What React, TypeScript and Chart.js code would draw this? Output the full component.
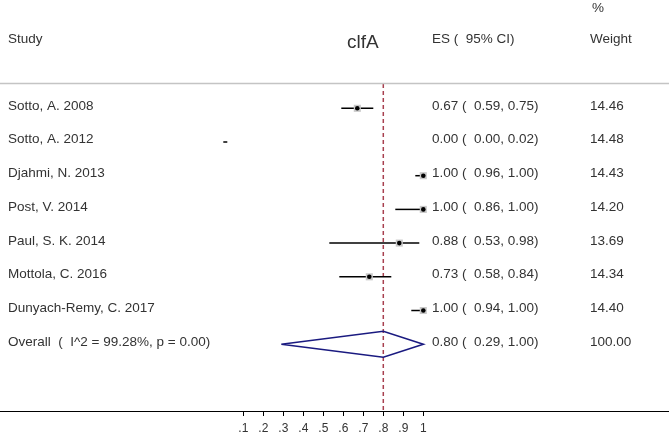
import React, { useEffect, useRef } from "react";
import { Chart, registerables } from "chart.js";

Chart.register(...registerables);

const studies = [
  "Sotto, A. 2008",
  "Sotto, A. 2012",
  "Djahmi, N. 2013",
  "Post, V. 2014",
  "Paul, S. K. 2014",
  "Mottola, C. 2016",
  "Dunyach-Remy, C. 2017",
];
const es = [0.67, 0.0, 1.0, 1.0, 0.88, 0.73, 1.0];
const ciLow = [0.59, 0.0, 0.96, 0.86, 0.53, 0.58, 0.94];
const ciHigh = [0.75, 0.02, 1.0, 1.0, 0.98, 0.84, 1.0];
const weights = [14.46, 14.48, 14.43, 14.2, 13.69, 14.34, 14.4];

const overallLabel = "Overall  (  I^2 = 99.28%, p = 0.00)";
const overallES = 0.8;
const overallLow = 0.29;
const overallHigh = 1.0;
const overallWeight = 100.0;

const xTicks = [0.1, 0.2, 0.3, 0.4, 0.5, 0.6, 0.7, 0.8, 0.9, 1.0];
const refValue = 0.8;
const title = "clfA";

const FONT = "'Liberation Sans', Arial, sans-serif";
const TEXT = "#333333";

export default function App() {
  const ref = useRef<HTMLCanvasElement | null>(null);

  useEffect(() => {
    document.body.style.margin = "0";
    const canvas = ref.current;
    if (!canvas) return;
    const n = studies.length;
    const overallRow = n;
    const hidden = (i: number) => es[i] === 0 && ciHigh[i] - ciLow[i] < 0.03;

    const ciSets = studies.map((s, i) => ({
      type: "line" as const,
      label: s,
      data: [
        { x: ciLow[i], y: i },
        { x: ciHigh[i], y: i },
      ],
      borderColor: "#000000",
      borderWidth: 1.5,
      pointRadius: 0,
      fill: false,
    }));

    const boxSet = {
      type: "scatter" as const,
      label: "weights",
      data: es.map((v, i) => ({ x: v, y: i })),
      pointStyle: "rect",
      pointRadius: es.map((v, i) => (hidden(i) ? 0 : 5)),
      backgroundColor: "#c8c8c8",
      borderWidth: 0,
    };
    const dotSet = {
      type: "scatter" as const,
      label: "es",
      data: es.map((v, i) => ({ x: v, y: i })),
      pointStyle: "circle",
      pointRadius: es.map((v, i) => (hidden(i) ? 0 : 2.3)),
      backgroundColor: "#000000",
      borderWidth: 0,
    };
    const dh = 0.386;
    const diamond = {
      type: "line" as const,
      label: "overall",
      data: [
        { x: overallLow, y: overallRow },
        { x: overallES, y: overallRow - dh },
        { x: overallHigh, y: overallRow },
        { x: overallES, y: overallRow + dh },
        { x: overallLow, y: overallRow },
      ],
      borderColor: "#1a1a80",
      borderWidth: 1.6,
      pointRadius: 0,
      fill: false,
      tension: 0,
    };
    const refLine = {
      type: "line" as const,
      label: "ref",
      data: [
        { x: refValue, y: -0.72 },
        { x: refValue, y: 9.2 },
      ],
      borderColor: "#a8404f",
      borderWidth: 1.5,
      borderDash: [4, 3],
      pointRadius: 0,
      fill: false,
    };

    const textPlugin = {
      id: "forestText",
      afterDraw(chart: any) {
        const ctx = chart.ctx;
        const ys = chart.scales.y;
        const w = chart.width;
        const ty = (v: number) => ys.getPixelForValue(v) - 2.3;
        ctx.save();
        const hy = Math.round(ys.getPixelForValue(-0.751)) + 0.5;
        ctx.strokeStyle = "#c4c4c4";
        ctx.lineWidth = 1.5;
        ctx.beginPath();
        ctx.moveTo(0, hy);
        ctx.lineTo(w, hy);
        ctx.stroke();

        ctx.fillStyle = TEXT;
        ctx.textBaseline = "middle";
        ctx.font = `13.5px ${FONT}`;
        const headY = ty(-1.988);
        ctx.fillText("Study", 8, headY);
        ctx.fillText("ES (  95% CI)", 432, headY);
        ctx.fillText("Weight", 590, headY);
        ctx.fillText("%", 592, ty(-2.89));
        ctx.font = `19px ${FONT}`;
        ctx.fillText(title, 347, ty(-1.88));

        ctx.font = `13.5px ${FONT}`;
        const f = (v: number) => v.toFixed(2);
        studies.forEach((s, i) => {
          const y = ty(i);
          ctx.fillText(s, 8, y);
          ctx.fillText(`${f(es[i])} (  ${f(ciLow[i])}, ${f(ciHigh[i])})`, 432, y);
          ctx.fillText(f(weights[i]), 590, y);
        });
        const oy = ty(overallRow);
        ctx.fillText(overallLabel, 8, oy);
        ctx.fillText(`${f(overallES)} (  ${f(overallLow)}, ${f(overallHigh)})`, 432, oy);
        ctx.fillText(f(overallWeight), 590, oy);
        ctx.restore();
      },
    };

    const chart = new Chart(canvas, {
      type: "scatter",
      data: { datasets: [dotSet, boxSet, diamond, ...ciSets, refLine] as any },
      options: {
        responsive: false,
        animation: false,
        events: [],
        layout: { padding: 0, autoPadding: false },
        plugins: { legend: { display: false }, tooltip: { enabled: false } },
        scales: {
          x: {
            type: "linear",
            position: "bottom",
            min: -1.1165,
            max: 2.2285,
            afterBuildTicks: (axis: any) => {
              axis.ticks = xTicks.map((v) => ({ value: v }));
            },
            afterFit: (axis: any) => {
              axis.height = 23;
            },
            ticks: {
              autoSkip: false,
              maxRotation: 0,
              padding: 5,
              color: TEXT,
              font: { family: FONT, size: 12 },
              callback: (v: any) => {
                const num = Number(v);
                return num >= 1 ? "1" : "." + Math.round(num * 10);
              },
            },
            grid: {
              display: true,
              drawOnChartArea: false,
              drawTicks: true,
              tickLength: 5,
              color: "#000000",
              lineWidth: 1,
            },
            border: { display: true, color: "#000000", width: 1 },
          },
          y: {
            type: "linear",
            display: false,
            reverse: true,
            min: -3.2136,
            max: 8.982,
          },
        },
      },
      plugins: [textPlugin],
    });
    return () => chart.destroy();
  }, []);

  return <canvas ref={ref} width={669} height={434} style={{ display: "block" }} />;
}
